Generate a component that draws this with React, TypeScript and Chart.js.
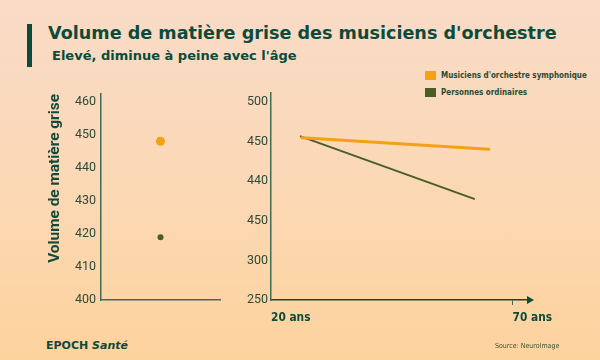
import React, { useEffect, useRef } from "react";
import { Chart, registerables } from "chart.js";

Chart.register(...registerables);

// ---- Data ----
const seriesNames = ["Musiciens d'orchestre symphonique", "Personnes ordinaires"];
const seriesColors = ["#f4a114", "#4b5d27"];

const leftCategories = [""];
const leftTickValues = [400, 410, 420, 430, 440, 450, 460];
const musiciansVolume = [448];
const ordinaryVolume = [419];

const rightTickLabels = ["250", "300", "450", "440", "450", "500"];
const xTickAges = [20, 70];
const musiciansAges = [26.4, 65.1];
const musiciansLevel = [4.1, 3.81];
const ordinaryAges = [26.0, 62.2];
const ordinaryLevel = [4.14, 2.55];

const axisColor = "#3f6d54";
const tickColor = "#2c4a38";
const darkGreen = "#0c4a3b";

const arrowPlugin = {
  id: "axisArrow",
  afterDraw(chart: any) {
    const { ctx, chartArea } = chart;
    const x = chartArea.right;
    const y = chartArea.bottom;
    ctx.save();
    ctx.fillStyle = darkGreen;
    ctx.beginPath();
    ctx.moveTo(x - 1, y - 4);
    ctx.lineTo(x + 6, y);
    ctx.lineTo(x - 1, y + 4);
    ctx.closePath();
    ctx.fill();
    ctx.restore();
  },
};

function LeftChart() {
  const ref = useRef<HTMLCanvasElement>(null);
  useEffect(() => {
    const chart = new Chart(ref.current!, {
      type: "line",
      data: {
        labels: leftCategories,
        datasets: [
          {
            label: seriesNames[0],
            data: musiciansVolume,
            showLine: false,
            pointRadius: 4.5,
            pointBackgroundColor: seriesColors[0],
            pointBorderWidth: 0,
            borderColor: seriesColors[0],
          },
          {
            label: seriesNames[1],
            data: ordinaryVolume,
            showLine: false,
            pointRadius: 3,
            pointBackgroundColor: seriesColors[1],
            pointBorderWidth: 0,
            borderColor: seriesColors[1],
          },
        ],
      },
      options: {
        animation: false,
        responsive: false,
        layout: { padding: { top: 14, right: 20, bottom: 20, left: 0 } },
        plugins: { legend: { display: false }, tooltip: { enabled: false } },
        scales: {
          x: {
            type: "category",
            offset: true,
            grid: { display: false, drawTicks: false },
            border: { display: true, color: axisColor, width: 1.5 },
            ticks: { display: false },
            afterFit: (s: any) => {
              s.height = 0;
            },
          },
          y: {
            type: "linear",
            min: 400,
            max: 462.3,
            grid: { display: false, drawTicks: false },
            border: { display: true, color: axisColor, width: 1.5 },
            afterBuildTicks: (s: any) => {
              s.ticks = leftTickValues.map((v) => ({ value: v }));
            },
            ticks: {
              padding: 5,
              color: tickColor,
              font: { family: "Roboto", size: 12.5 },
            },
            title: {
              display: true,
              text: "Volume de matière grise",
              align: "end",
              color: "#15493a",
              font: { family: "Roboto", size: 15.4, weight: "bold" },
              padding: { top: 46, bottom: 0 },
            },
            afterFit: (s: any) => {
              s.width = 101;
            },
          },
        },
      },
    } as any);
    return () => chart.destroy();
  }, []);
  return (
    <canvas
      ref={ref}
      width={240}
      height={240}
      style={{ position: "absolute", left: 0, top: 80, width: 240, height: 240 }}
    />
  );
}

function RightChart() {
  const ref = useRef<HTMLCanvasElement>(null);
  useEffect(() => {
    const chart = new Chart(ref.current!, {
      type: "line",
      data: {
        datasets: [
          {
            label: seriesNames[0],
            data: musiciansAges.map((a, i) => ({ x: a, y: musiciansLevel[i] })),
            borderColor: seriesColors[0],
            borderWidth: 3,
            pointRadius: 0,
            borderCapStyle: "round",
          },
          {
            label: seriesNames[1],
            data: ordinaryAges.map((a, i) => ({ x: a, y: ordinaryLevel[i] })),
            borderColor: seriesColors[1],
            borderWidth: 2,
            pointRadius: 0,
          },
        ],
      },
      options: {
        animation: false,
        responsive: false,
        layout: { padding: { top: 13, right: 72, bottom: 0, left: 0 } },
        plugins: { legend: { display: false }, tooltip: { enabled: false } },
        scales: {
          x: {
            type: "linear",
            min: 20,
            max: 73.2,
            grid: {
              display: true,
              drawOnChartArea: false,
              drawTicks: true,
              tickLength: 5,
              color: (c: any) => (c.tick && c.tick.value === xTickAges[1] ? axisColor : "rgba(0,0,0,0)"),
            },
            border: { display: true, color: darkGreen, width: 1.5 },
            afterBuildTicks: (s: any) => {
              s.ticks = xTickAges.map((v) => ({ value: v }));
            },
            ticks: {
              align: "start",
              padding: 6,
              color: darkGreen,
              font: { family: "DejaVu Sans Condensed", size: 11.8, weight: "bold" },
              callback: (v: any) => `${v} ans`,
            },
            afterFit: (s: any) => {
              s.height = 30;
            },
          },
          y: {
            type: "linear",
            min: 0,
            max: 5.23,
            grid: { display: false, drawTicks: false },
            border: { display: true, color: axisColor, width: 1.5 },
            afterBuildTicks: (s: any) => {
              s.ticks = rightTickLabels.map((_, i) => ({ value: i }));
            },
            ticks: {
              padding: 3,
              color: tickColor,
              font: { family: "Roboto", size: 12.5 },
              callback: (v: any) => rightTickLabels[v],
            },
            afterFit: (s: any) => {
              s.width = 71;
            },
          },
        },
      },
      plugins: [arrowPlugin],
    } as any);
    return () => chart.destroy();
  }, []);
  return (
    <canvas
      ref={ref}
      width={400}
      height={250}
      style={{ position: "absolute", left: 200, top: 80, width: 400, height: 250 }}
    />
  );
}

export default function App() {
  return (
    <div
      style={{
        position: "absolute",
        left: 0,
        top: 0,
        width: 600,
        height: 360,
        overflow: "hidden",
        background: "linear-gradient(to bottom, #f9dbc7 0%, #fbd8b6 50%, #fdd39d 100%)",
      }}
    >
      <div style={{ position: "absolute", left: 27, top: 24, width: 5, height: 43, background: darkGreen }} />
      <div
        style={{
          position: "absolute",
          left: 48,
          top: 24,
          lineHeight: "18px",
          fontFamily: "'DejaVu Sans', sans-serif",
          fontWeight: "bold",
          fontSize: 17.6,
          color: darkGreen,
          whiteSpace: "nowrap",
        }}
      >
        Volume de matière grise des musiciens d'orchestre
      </div>
      <div
        style={{
          position: "absolute",
          left: 52,
          top: 48.5,
          lineHeight: "13px",
          fontFamily: "'DejaVu Sans', sans-serif",
          fontWeight: "bold",
          fontSize: 13,
          color: darkGreen,
          whiteSpace: "nowrap",
        }}
      >
        Elevé, diminue à peine avec l'âge
      </div>

      {seriesNames.map((name, i) => (
        <div
          key={name}
          style={{
            position: "absolute",
            left: 425,
            top: 71 + i * 17,
            height: 9,
            display: "flex",
            alignItems: "center",
            whiteSpace: "nowrap",
          }}
        >
          <div style={{ width: 11, height: 9, background: seriesColors[i], marginRight: 5 }} />
          <span
            style={{
              fontFamily: "'DejaVu Sans Condensed', sans-serif",
              fontWeight: "bold",
              fontSize: 8,
              lineHeight: "9px",
              color: "#2d4a33",
            }}
          >
            {name}
          </span>
        </div>
      ))}

      <LeftChart />
      <RightChart />

      <div
        style={{
          position: "absolute",
          left: 46,
          top: 339.7,
          lineHeight: "11px",
          fontFamily: "'DejaVu Sans', sans-serif",
          fontWeight: "bold",
          fontSize: 11,
          color: darkGreen,
          whiteSpace: "nowrap",
        }}
      >
        EPOCH <i>Santé</i>
      </div>
      <div
        style={{
          position: "absolute",
          left: 495,
          top: 343.4,
          lineHeight: "7px",
          fontFamily: "'Liberation Sans Narrow', 'DejaVu Sans Condensed', sans-serif",
          fontSize: 7,
          color: "#3f5233",
          whiteSpace: "nowrap",
        }}
      >
        Source: NeuroImage
      </div>
    </div>
  );
}
